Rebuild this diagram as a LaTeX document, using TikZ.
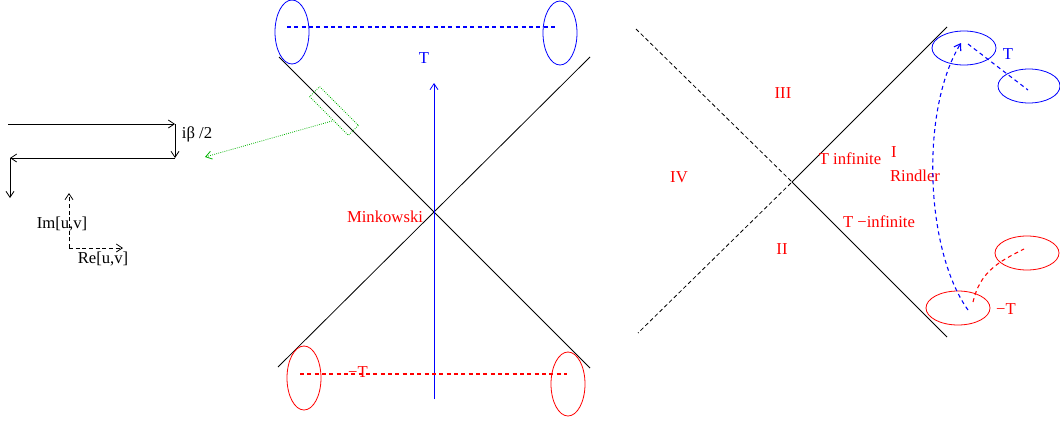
\documentclass[tikz,border=0pt]{standalone}
\usepackage{fontspec}
\setmainfont{Liberation Serif}
\usetikzlibrary{positioning, arrows.meta}

\tikzset{
  lbl/.style={inner sep=0pt, font=\fontsize{12.5}{14}\selectfont},
  redlbl/.style={lbl, text=red},
  bluelbl/.style={lbl, text=blue},
  bdash/.style={draw=blue, line width=0.8pt, dash pattern=on 3pt off 2.5pt},
  rdash/.style={draw=red, line width=0.8pt, dash pattern=on 3pt off 2.5pt},
  zoombox/.style={draw=green!70!black, densely dotted},
}

\begin{document}
\begin{tikzpicture}[x=0.75pt, y=-0.75pt, line width=0.6pt,
    >={Straight Barb[length=4.5pt, width=6pt]}]
  \useasboundingbox (0,0) rectangle (1060,421);

  % Contour in the complex plane
  \coordinate (c1) at (8,124);
  \coordinate (c2) at (175,124);
  \coordinate (c3) at (175,158);
  \coordinate (c4) at (10,158);
  \coordinate (c5) at (10,198);
  \draw[->] (c1) -- (c2);
  \draw[->] (c2) -- (c3);
  \draw[->] (c3) -- (c4);
  \draw[->] (c4) -- (c5);
  \node[lbl] (beta) at (197,134) {iβ /2};

  % Axes of the complex plane
  \coordinate (o) at (69,248);
  \coordinate (imtip) at (69,193);
  \coordinate (retip) at (123,248);
  \draw[->, densely dashed] (o) -- (imtip);
  \draw[->, densely dashed] (o) -- (retip);
  \node[lbl] (imlbl) at (62,224) {Im[u,v]};
  \node[lbl] (relbl) at (103,259) {Re[u,v]};

  % Minkowski diagram
  \coordinate (mtl) at (279,57);
  \coordinate (mtr) at (590,57);
  \coordinate (mbl) at (278,367);
  \coordinate (mbr) at (590,368);
  \draw (mtl) -- (mbr);
  \draw (mtr) -- (mbl);
  \node[redlbl] (mink) at (385,217) {Minkowski};

  % Time axis
  \coordinate (tbot) at (434,399);
  \coordinate (ttop) at (434,83);
  \draw[->, blue] (tbot) -- (ttop);
  \node[bluelbl] (tlbl) at (424,58) {T};

  % Slices at T
  \draw[blue] (292,32) ellipse [x radius=17, y radius=32];
  \draw[blue] (560,33) ellipse [x radius=17, y radius=32];
  \coordinate (ta) at (287,27);
  \coordinate (tb) at (557,27);
  \draw[bdash] (ta) -- (tb);

  % Slices at -T
  \draw[red] (304,378) ellipse [x radius=17, y radius=32];
  \draw[red] (568,384) ellipse [x radius=17, y radius=32];
  \coordinate (ma) at (300,374);
  \coordinate (mb) at (567,374);
  \draw[rdash] (ma) -- (mb);
  \node[redlbl] (mtlbl) at (358,372) {−T};

  % Zoom onto the light cone
  \draw[zoombox] (358.4,125.4) -- (348.4,135.4) -- (309.6,96.6) -- (319.6,86.6) -- cycle;
  \coordinate (gs) at (332,121);
  \coordinate (ge) at (205,157);
  \draw[->, zoombox] (gs) -- (ge);

  % Rindler diagram
  \coordinate (rc) at (792,182);
  \coordinate (rtl) at (636,29);
  \coordinate (rbl) at (638,333);
  \coordinate (rtr) at (947,27);
  \coordinate (rbr) at (947,337);
  \draw[densely dashed] (rtl) -- (rc) -- (rbl);
  \draw (rtr) -- (rc) -- (rbr);
  \node[redlbl] (r3) at (783,93) {III};
  \node[redlbl] (r4) at (679,177) {IV};
  \node[redlbl] (r2) at (782,249) {II};
  \node[redlbl] (r1) at (894,152) {I};
  \node[redlbl] (rind) at (915,176) {Rindler};
  \node[redlbl] (tinf) at (850,159) {T infinite};
  \node[redlbl] (tminf) at (879,222) {T −infinite};

  % Slices in the Rindler wedge
  \draw[blue] (964,48) ellipse [x radius=32, y radius=17];
  \draw[blue] (1029,86) ellipse [x radius=31, y radius=17];
  \coordinate (rta) at (968,44);
  \coordinate (rtb) at (1028,90);
  \draw[bdash] (rta) -- (rtb);
  \node[bluelbl] (rtlbl) at (1008,54) {T};

  \draw[red] (958,308) ellipse [x radius=32, y radius=17];
  \draw[red] (1027,253) ellipse [x radius=32, y radius=17];
  \coordinate (rma) at (973,302);
  \coordinate (rmb) at (1024,249);
  \draw[rdash] (rma) .. controls (980,272) and (998,262) .. (rmb);
  \node[redlbl] (rmtlbl) at (1006,309) {−T};

  % Evolution from -T to T
  \coordinate (ea) at (968,310);
  \coordinate (eb) at (961,43);
  \draw[->, bdash] (ea) .. controls (925,250) and (920,110) .. (eb);
\end{tikzpicture}
\end{document}
